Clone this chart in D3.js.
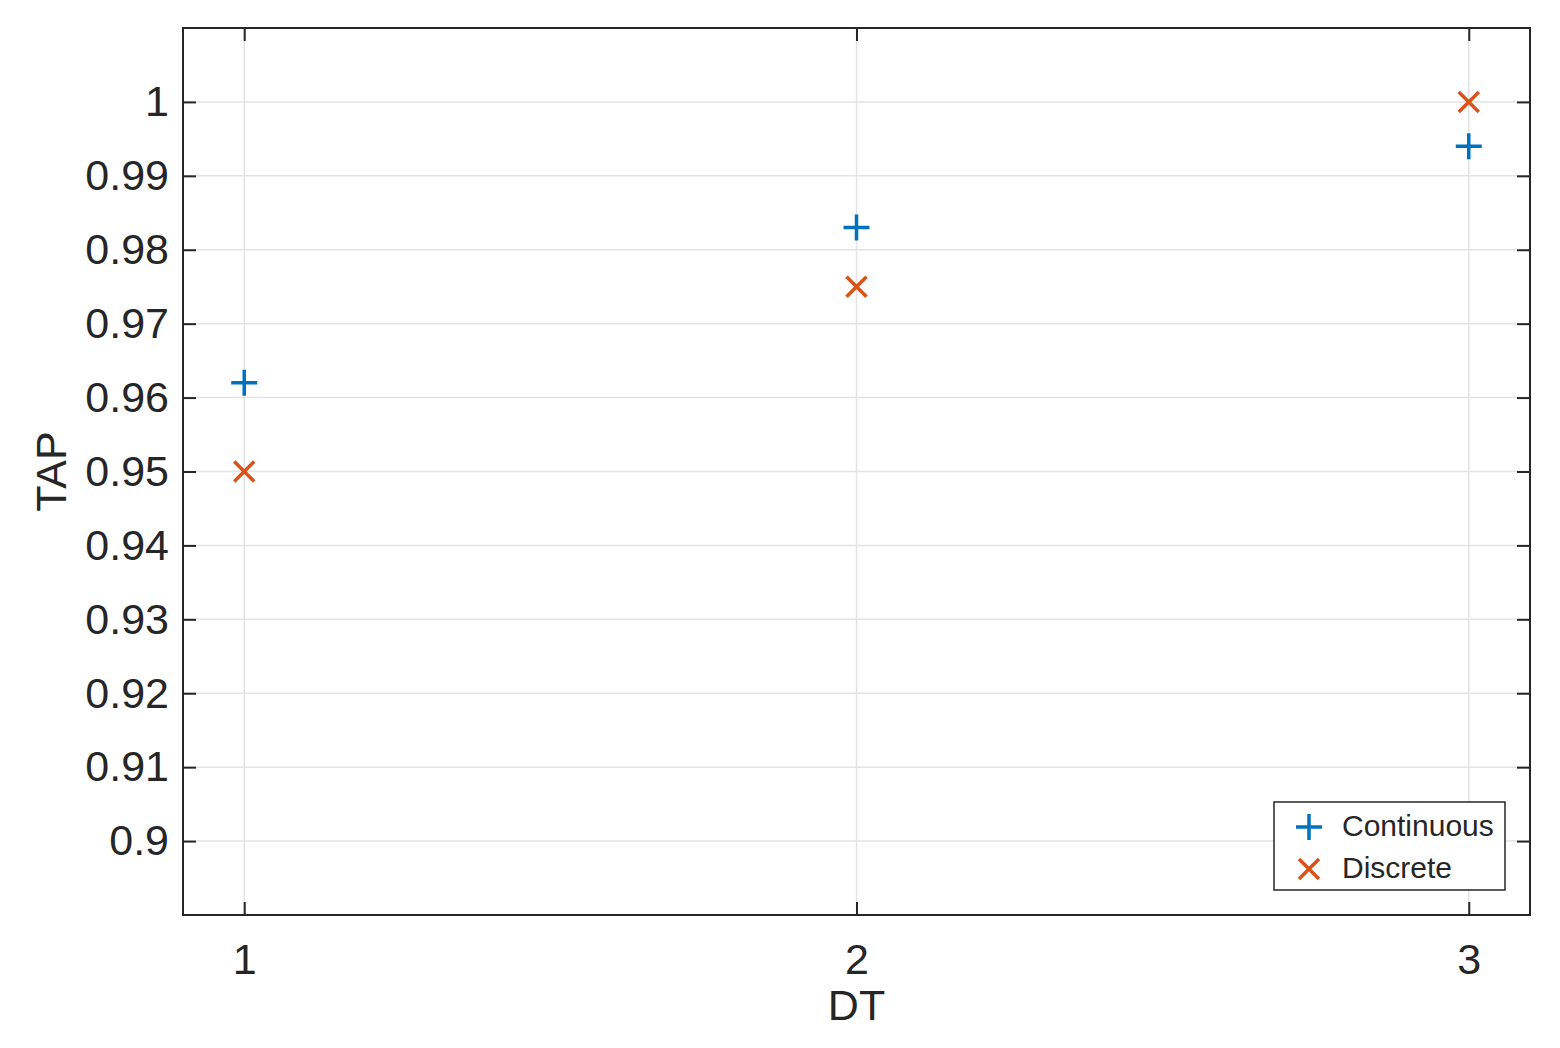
<!DOCTYPE html>
<html>
<head>
<style>
  body { margin: 0; background: #fff; }
  text { font-family: "Liberation Sans", Arial, sans-serif; fill: #262626; }
  .grid line { stroke: #e3e3e3; stroke-width: 1.5; }
</style>
<script src="https://cdn.jsdelivr.net/npm/d3@7"></script>
</head>
<body>
<div id="chart"></div>
<script>
var dtValues = [1, 2, 3];
var continuousTAP = [0.962, 0.983, 0.994];
var discreteTAP = [0.950, 0.975, 1.000];
var yTicks = [0.9, 0.91, 0.92, 0.93, 0.94, 0.95, 0.96, 0.97, 0.98, 0.99, 1];
var seriesNames = ["Continuous", "Discrete"];

var W = 1560, H = 1048;
var plotLeft = 183, plotRight = 1530, plotTop = 28, plotBottom = 915;

var svg = d3.select("#chart").append("svg").attr("width", W).attr("height", H);

var x = d3.scaleLinear().domain([0.9, 3.1]).range([plotLeft, plotRight]);
var y = d3.scaleLinear().domain([0.89, 1.01]).range([plotBottom, plotTop]);

// grid
var grid = svg.append("g").attr("class", "grid");
grid.selectAll(".gy").data(yTicks).enter().append("line")
    .attr("x1", plotLeft).attr("x2", plotRight)
    .attr("y1", d => y(d)).attr("y2", d => y(d));
grid.selectAll(".gx").data(dtValues).enter().append("line")
    .attr("y1", plotTop).attr("y2", plotBottom)
    .attr("x1", d => x(d)).attr("x2", d => x(d));

// axes with inward ticks on all four sides
var tickLen = 13;
function styleAxis(g) {
  g.select(".domain").remove();
  g.selectAll(".tick line").attr("stroke", "#262626").attr("stroke-width", 2);
  g.selectAll(".tick text").attr("font-size", 43).attr("fill", "#262626")
    .attr("font-family", "'Liberation Sans', Arial, sans-serif");
}
svg.append("g").attr("transform", "translate(0," + plotBottom + ")")
  .call(d3.axisBottom(x).tickValues(dtValues).tickFormat(d3.format("d")).tickSizeInner(-tickLen).tickSizeOuter(0).tickPadding(28))
  .call(styleAxis);
svg.append("g").attr("transform", "translate(0," + plotTop + ")")
  .call(d3.axisTop(x).tickValues(dtValues).tickFormat("").tickSizeInner(-tickLen).tickSizeOuter(0))
  .call(styleAxis);
svg.append("g").attr("transform", "translate(" + plotLeft + ",0)")
  .call(d3.axisLeft(y).tickValues(yTicks).tickFormat(d => String(+d.toFixed(2))).tickSizeInner(-tickLen).tickSizeOuter(0).tickPadding(14))
  .call(styleAxis);
svg.append("g").attr("transform", "translate(" + plotRight + ",0)")
  .call(d3.axisRight(y).tickValues(yTicks).tickFormat("").tickSizeInner(-tickLen).tickSizeOuter(0))
  .call(styleAxis);

// box
svg.append("rect").attr("x", plotLeft).attr("y", plotTop)
  .attr("width", plotRight - plotLeft).attr("height", plotBottom - plotTop)
  .attr("fill", "none").attr("stroke", "#262626").attr("stroke-width", 2);

// axis labels
svg.append("text").attr("x", (plotLeft + plotRight) / 2).attr("y", 1020)
  .attr("text-anchor", "middle").attr("font-size", 43).text("DT");
svg.append("text").attr("transform", "translate(66," + y(0.95) + ") rotate(-90)")
  .attr("text-anchor", "middle").attr("font-size", 43).text("TAP");

// markers
var blue = "#0072BD", orange = "#D95319";
function plus(g, cx, cy, s) {
  g.append("path").attr("d", "M" + (cx - s) + "," + cy + "H" + (cx + s) + "M" + cx + "," + (cy - s) + "V" + (cy + s))
    .attr("stroke", blue).attr("stroke-width", 3.5).attr("fill", "none");
}
function cross(g, cx, cy, s) {
  g.append("path").attr("d", "M" + (cx - s) + "," + (cy - s) + "L" + (cx + s) + "," + (cy + s) + "M" + (cx - s) + "," + (cy + s) + "L" + (cx + s) + "," + (cy - s))
    .attr("stroke", orange).attr("stroke-width", 3.5).attr("fill", "none");
}
var marks = svg.append("g");
dtValues.forEach(function(d, i) {
  plus(marks, x(d), y(continuousTAP[i]), 13);
  cross(marks, x(d), y(discreteTAP[i]), 10);
});

// legend
var lg = svg.append("g").attr("transform", "translate(1274,802)");
lg.append("rect").attr("width", 231).attr("height", 88)
  .attr("fill", "#fff").attr("stroke", "#262626").attr("stroke-width", 1.5);
plus(lg, 35, 25, 13);
cross(lg, 35, 67, 10);
lg.selectAll(".lt").data(seriesNames).enter().append("text")
  .attr("x", 68).attr("y", (d, i) => 26 + i * 42)
  .attr("dominant-baseline", "middle").attr("font-size", 30).text(d => d);
</script>
</body>
</html>
